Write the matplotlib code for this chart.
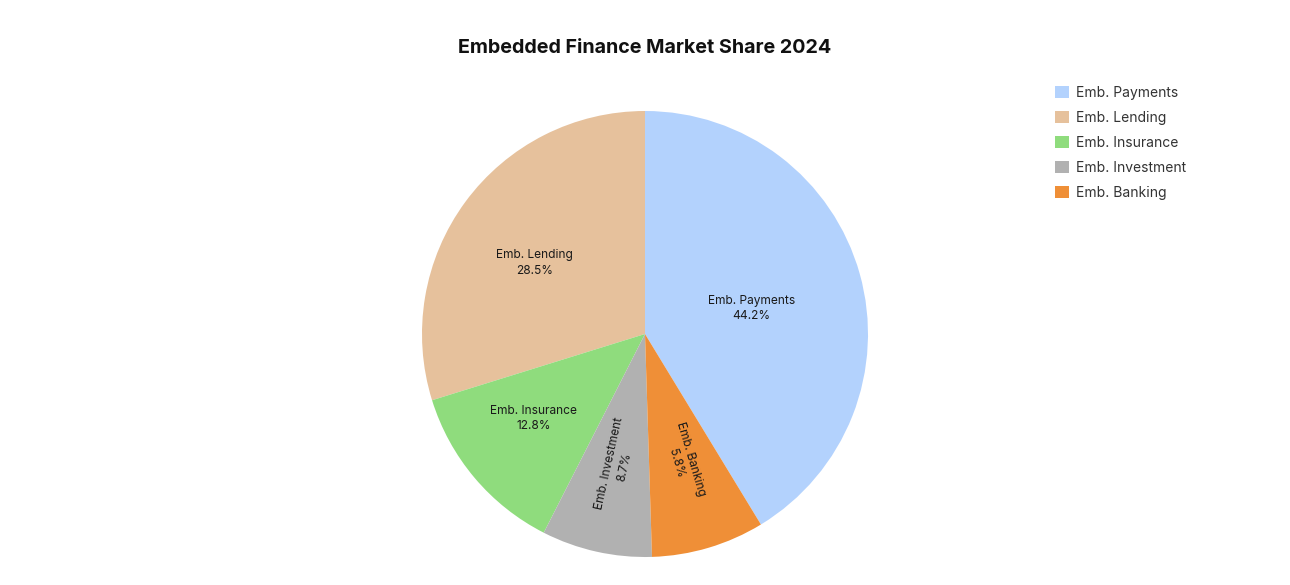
import numpy as np
import matplotlib
matplotlib.use('Agg')
import matplotlib.pyplot as plt

plt.rcParams['font.family'] = ['Inter', 'DejaVu Sans']

# data
names = ['Emb. Payments', 'Emb. Lending', 'Emb. Insurance', 'Emb. Investment', 'Emb. Banking']
share_text = ['44.2%', '28.5%', '12.8%', '8.7%', '5.8%']
# slice sizes as drawn (measured from the wedge angles)
sizes = [41.3, 29.8, 12.7, 8.0, 8.2]
colors = ['#b3d2fd', '#e6c19c', '#8fdc7d', '#b1b1b1', '#ef8f37']

W, H = 1290, 585
fig = plt.figure(figsize=(W / 100, H / 100), dpi=100)

# pie centre ~ (645, 334) px, radius ~223 px
cx, cy, r = 645, 334, 223
ax = fig.add_axes([(cx - r) / W, (H - cy - r) / H, 2 * r / W, 2 * r / H])
start = 90 - sizes[0] / sum(sizes) * 360
wedges, _ = ax.pie(sizes, colors=colors, startangle=start, counterclock=True,
                   radius=1, wedgeprops=dict(linewidth=0))
ax.set_xlim(-1, 1)
ax.set_ylim(-1, 1)
ax.set_aspect('equal')
ax.axis('off')

# label placement inside each slice: radius, fraction along the arc, turned radially or not
label_r = [0.49, 0.59, 0.626, 0.601, 0.595]
label_frac = [0.486, 0.534, 0.435, 0.52, 0.505]
radial = [False, False, False, True, True]
for w, name, txt, lr, fr, rad in zip(wedges, names, share_text, label_r, label_frac, radial):
    ang = w.theta1 + fr * (w.theta2 - w.theta1)
    mid = (w.theta1 + w.theta2) / 2
    x = lr * np.cos(np.radians(ang))
    y = lr * np.sin(np.radians(ang))
    rot = 0
    if rad:
        rot = (mid + 90) % 180 - 90
    ax.text(x, y, name + '\n' + txt, ha='center', va='center', rotation=rot,
            fontsize=8.6, color='#1a1a1a', linespacing=1.4)

fig.text(0.5, 1 - 48 / H, 'Embedded Finance Market Share 2024', ha='center', va='center',
         fontsize=14.2, fontweight='bold', color='#111111')

fig.legend(wedges, names, loc='upper left', bbox_to_anchor=(1049 / W, 1 - 80 / H),
           frameon=False, fontsize=10.0, handlelength=1.05, handleheight=1.05,
           handletextpad=0.5, labelspacing=0.78, borderaxespad=0, labelcolor='#333333')

fig.savefig('out.png', dpi=100, facecolor='white')
